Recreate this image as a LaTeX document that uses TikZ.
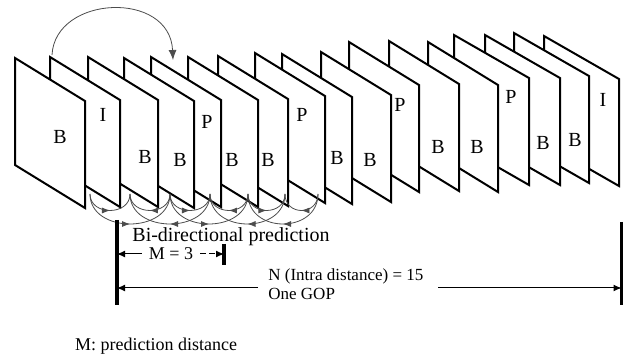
\documentclass[tikz,border=0pt]{standalone}
\usepackage{fontspec}
\setmainfont{Liberation Serif}
\usetikzlibrary{arrows.meta,decorations.markings}

\tikzset{
  frame/.style={fill=white, draw=black, line width=1pt, line join=miter},
  flabel/.style={font=\fontsize{10}{12}\selectfont, inner sep=0pt},
  pred/.style={draw=black!70, line width=0.4pt},
  fwd/.style={postaction={decorate}, decoration={markings,
      mark=at position 0.5 with {\arrow{Latex[length=4pt,width=3pt]}}}},
  bwd/.style={postaction={decorate}, decoration={markings,
      mark=at position 0.5 with {\arrowreversed{Latex[length=4pt,width=3pt]}}}},
  bar/.style={line width=1.6pt},
  dim/.style={line width=0.5pt},
  tip/.style={-{Latex[length=4pt,width=3.5pt]}},
}

\begin{document}
\begin{tikzpicture}[x=0.5pt, y=-0.5pt]
    \useasboundingbox (0,0) rectangle (623,358);

    % --- frames of the sequence, drawn back to front ---
    \foreach \n/\l/\t/\w/\lab/\lx/\ly in {
        17/544/36/75/I/603/100, 16/514/33/75/B/575/140,
        15/485/35/75/B/543/143, 14/454/35/75/P/511/97,
        13/428/42/70/B/477/147, 12/389/41/70/B/438/147,
        11/349/42/70/P/400/105, 10/321/52/70/B/370/160,
        9/282/54/70/B/337/158,  8/255/53/70/P/302/115,
        7/218/56/70/B/268/160,  6/188/57/70/B/232/160,
        5/151/57/70/P/207/122,  4/124/58/70/B/180/160,
        3/88/57/70/B/145/157,   2/50/57/70/I/103/115,
        1/15/58/70/B/60/137} {
      \draw[frame] (\l,\t) -- ++(\w,43) -- ++(0,107) -- ++(-\w,-43) -- cycle;
      \node[flabel] (f\n) at (\lx,\ly) {\lab};
    }

    % --- forward prediction I -> P ---
    \coordinate (itop) at (52,55);
    \coordinate (ptop) at (173,60);
    \draw[pred, -{Latex[length=5pt,width=4pt]}] (itop) .. controls (55,-5) and (170,-10) .. (ptop);

    % --- bi-directional prediction arcs ---
    \foreach \i/\x in {0/90,1/130,2/170,3/210,4/248,5/285,6/318}
      \coordinate (a\i) at (\x,194);
    \draw[pred, fwd] (a0) .. controls +(0,22) and +(0,22) .. (a1);
    \draw[pred, bwd] (a1) .. controls +(0,22) and +(0,22) .. (a2);
    \draw[pred, fwd] (a2) .. controls +(0,22) and +(0,22) .. (a3);
    \draw[pred, bwd] (a3) .. controls +(0,22) and +(0,22) .. (a4);
    \draw[pred, fwd] (a4) .. controls +(0,22) and +(0,22) .. (a5);
    \draw[pred, bwd] (a5) .. controls +(0,22) and +(0,22) .. (a6);
    \draw[pred, fwd] (a0) .. controls +(0,40) and +(0,40) .. (a2);
    \draw[pred, bwd] (a1) .. controls +(0,40) and +(0,40) .. (a3);
    \draw[pred, fwd] (a2) .. controls +(0,40) and +(0,40) .. (a4);
    \draw[pred, bwd] (a3) .. controls +(0,40) and +(0,40) .. (a5);
    \draw[pred, bwd] (a4) .. controls +(0,40) and +(0,40) .. (a6);
    \node[font=\fontsize{10}{12}\selectfont] (bidir) at (231,237) {Bi-directional prediction};

    % --- distances ---
    \coordinate (gopl) at (117,220);
    \coordinate (gopr) at (621.5,222);
    \coordinate (mr) at (224,244);
    \draw[bar] (gopl) -- ++(0,85);
    \draw[bar] (gopr) -- ++(0,83);
    \draw[bar] (mr) -- ++(0,21);

    \node[font=\fontsize{9}{11}\selectfont] (mlab) at (171,254) {M = 3};
    \draw[dim, tip] (mlab.west) -- (mlab.west -| gopl);
    \draw[dim, tip, dash pattern=on 3pt off 1.5pt] (mlab.east) -- (mlab.east -| mr);

    \node[font=\fontsize{8.5}{10}\selectfont, anchor=base west, inner sep=0pt] (nlab) at (268,281) {N (Intra distance) = 15};
    \node[font=\fontsize{8.5}{10}\selectfont, anchor=base west, inner sep=0pt] (gop) at (268,300) {One GOP};
    \coordinate (nl) at (258,288);
    \coordinate (nr) at (438,288);
    \draw[dim, tip] (nl) -- (nl -| gopl);
    \draw[dim, tip] (nr) -- (nr -| gopr);

    \node[font=\fontsize{9}{11}\selectfont] (mnote) at (156,346) {M: prediction distance};
\end{tikzpicture}
\end{document}
